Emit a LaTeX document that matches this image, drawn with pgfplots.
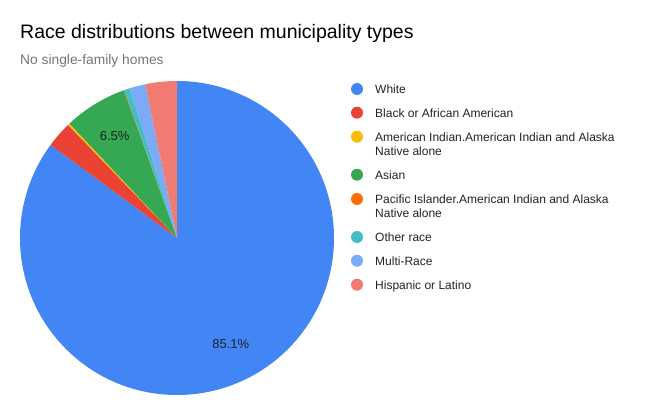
\documentclass[border=0pt]{standalone}
\usepackage{pgfplots}
\pgfplotsset{compat=1.18}
\usepackage{pgfplotstable}
\usepackage{fontspec}
\setmainfont{Liberation Sans}

\definecolor{col0}{HTML}{4285F4}
\definecolor{col1}{HTML}{EA4335}
\definecolor{col2}{HTML}{FBBC04}
\definecolor{col3}{HTML}{34A853}
\definecolor{col4}{HTML}{FF6D01}
\definecolor{col5}{HTML}{46BDC6}
\definecolor{col6}{HTML}{7BAAF7}
\definecolor{col7}{HTML}{F07B72}
\definecolor{legendtext}{HTML}{222222}
\definecolor{subtext}{HTML}{757575}

% share of each group, in percent, clockwise from 12 o'clock
\pgfplotstableread[col sep=comma]{
race,share
White,85.1
Black,2.7
AmInd,0.2
Asian,6.5
Pacific,0.05
Other,0.6
Multi,1.6
Hispanic,3.25
}\racedata

\begin{document}
\begin{tikzpicture}[x=1pt,y=1pt]
\path[use as bounding box] (0,0) rectangle (672,416);

\node[anchor=base west,inner sep=0,font=\fontsize{19.5}{22}\selectfont] at (20,377) {Race distributions between municipality types};
\node[anchor=base west,inner sep=0,text=subtext,font=\fontsize{13.8}{16}\selectfont] at (20,351) {No single-family homes};

\begin{axis}[
    at={(177pt,178pt)}, anchor=center,
    scale only axis,
    width=314pt, height=314pt,
    xmin=-1, xmax=1, ymin=-1, ymax=1,
    hide axis, clip=false,
]
\pgfmathsetmacro{\cum}{0}
\pgfplotsforeachungrouped \i in {0,...,7}{
    \pgfplotstablegetelem{\i}{share}\of\racedata
    \let\val=\pgfplotsretval
    \pgfmathsetmacro{\angA}{90-3.6*\cum}
    \pgfmathsetmacro{\angB}{90-3.6*(\cum+\val)}
    \pgfmathsetmacro{\angM}{(\angA+\angB)/2}
    \edef\temp{\noexpand\fill[col\i] (axis cs:0,0) -- ++(\angA:157pt)
        arc[start angle=\angA, end angle=\angB, radius=157pt] -- cycle;}
    \temp
    \ifdim\val pt>5pt
        \pgfmathsetmacro{\lx}{0.76*cos(\angM)}
        \pgfmathsetmacro{\ly}{0.76*sin(\angM)}
        \edef\temp{\noexpand\node[text=legendtext,font=\noexpand\fontsize{13}{15}\noexpand\selectfont]
            at (axis cs:\lx,\ly) {\val\noexpand\%};}
        \temp
    \fi
    \pgfmathsetmacro{\cum}{\cum+\val}
}
\end{axis}

% legend
\begin{scope}[every node/.style={anchor=base west,inner sep=0,text=legendtext,font=\fontsize{12}{14}\selectfont}]
\fill[col0] (357,327) circle (6);
\node at (375,322.7) {White};
\fill[col1] (357,303.3) circle (6);
\node at (375,299) {Black or African American};
\fill[col2] (357,279.3) circle (6);
\node at (375,275) {American Indian.American Indian and Alaska};
\node at (375,260.7) {Native alone};
\fill[col3] (357,241.3) circle (6);
\node at (375,237) {Asian};
\fill[col4] (357,217) circle (6);
\node at (375,212.7) {Pacific Islander.American Indian and Alaska};
\node at (375,199) {Native alone};
\fill[col5] (357,179) circle (6);
\node at (375,174.7) {Other race};
\fill[col6] (357,155.3) circle (6);
\node at (375,151) {Multi-Race};
\fill[col7] (357,131.3) circle (6);
\node at (375,127) {Hispanic or Latino};
\end{scope}
\end{tikzpicture}
\end{document}
